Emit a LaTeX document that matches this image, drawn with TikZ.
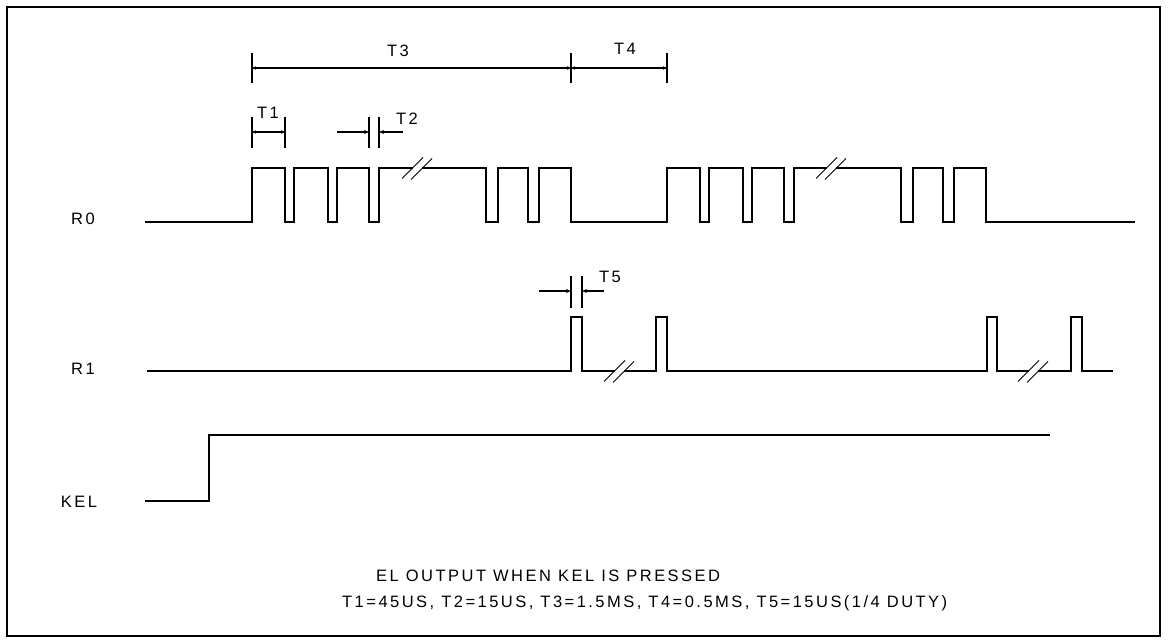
\documentclass[tikz,border=0pt]{standalone}
\usepackage{fontspec}
\setmainfont{Liberation Sans}
\newfontfamily\lbl[LetterSpace=15]{Liberation Sans}
\usetikzlibrary{arrows.meta}
\newcommand\brkpair[2]{%
  \draw[slash] (#1-15,#2+10.5) -- ++(21,-21);
  \draw[slash] (#1-6,#2+11.5) -- ++(21,-21);}
\begin{document}
\begin{tikzpicture}[x=1pt,y=-1pt,
  sig/.style={line width=1.8pt, line join=miter},
  tickln/.style={line width=1.6pt},
  dimln/.style={line width=1.4pt, {Stealth[length=4pt,width=3.5pt]}-{Stealth[length=4pt,width=3.5pt]}},
  onearr/.style={line width=1.4pt, -{Stealth[length=5pt,width=4pt]}},
  lab/.style={font=\lbl\fontsize{16.5}{19}\selectfont, inner sep=0pt},
  slash/.style={line width=1pt}]
\useasboundingbox (0,0) rectangle (1168,644);
\fill[white] (0,0) rectangle (1168,644);
% frame
\draw[line width=2pt] (7,7) rectangle (1160,636);

% signal labels
\node[lab, anchor=base] (lr0) at (83,225) {R0};
\node[lab, anchor=base] (lr1) at (83,374) {R1};
\node[lab, anchor=base] (lkel) at (79,507) {KEL};

% R0 waveform
\draw[sig] (145,222) -- (252,222) -- (252,168) -- (285,168) -- (285,222) -- (294,222) -- (294,168)
  -- (328,168) -- (328,222) -- (337,222) -- (337,168) -- (369,168) -- (369,222) -- (379,222)
  -- (379,168) -- (413,168);
\brkpair{417}{168}
\draw[sig] (422,168) -- (486,168) -- (486,222) -- (498,222) -- (498,168) -- (528,168) -- (528,222)
  -- (539,222) -- (539,168) -- (571,168) -- (571,222) -- (667,222) -- (667,168) -- (700,168)
  -- (700,222) -- (709,222) -- (709,168) -- (743,168) -- (743,222) -- (752,222) -- (752,168)
  -- (784,168) -- (784,222) -- (794,222) -- (794,168) -- (827,168);
\brkpair{831}{168}
\draw[sig] (836,168) -- (901,168) -- (901,222) -- (913,222) -- (913,168) -- (943,168) -- (943,222)
  -- (954,222) -- (954,168) -- (986,168) -- (986,222) -- (1135,222);

% R1 waveform
\draw[sig] (147,371) -- (571,371) -- (571,317) -- (582,317) -- (582,371) -- (615,371);
\brkpair{619}{371}
\draw[sig] (624,371) -- (656,371) -- (656,317) -- (667,317) -- (667,371) -- (987,371) -- (987,317)
  -- (997,317) -- (997,371) -- (1029,371);
\brkpair{1033}{371}
\draw[sig] (1038,371) -- (1071,371) -- (1071,317) -- (1082,317) -- (1082,371) -- (1113,371);

% KEL waveform
\draw[sig] (145,501) -- (209,501) -- (209,435) -- (1050,435);

% T3 / T4 dimension
\draw[tickln] (252,53) -- (252,83);
\draw[tickln] (571,53) -- (571,83);
\draw[tickln] (667,53) -- (667,83);
\draw[dimln] (252,68) -- (571,68);
\draw[dimln] (571,68) -- (667,68);
\node[lab, anchor=base] (t3) at (398,57) {T3};
\node[lab, anchor=base] (t4) at (625,55) {T4};

% T1
\draw[tickln] (252,117) -- (252,148);
\draw[tickln] (285,117) -- (285,148);
\draw[dimln] (252,132) -- (285,132);
\node[lab, anchor=base] (t1) at (268,119) {T1};

% T2
\draw[tickln] (369,117) -- (369,148);
\draw[tickln] (379,117) -- (379,148);
\draw[onearr] (337,132) -- (369,132);
\draw[onearr] (403,132) -- (379,132);
\node[lab, anchor=base] (t2) at (407,125) {T2};

% T5
\draw[tickln] (571,276) -- (571,308);
\draw[tickln] (582,276) -- (582,308);
\draw[onearr] (539,291) -- (571,291);
\draw[onearr] (604,291) -- (582,291);
\node[lab, anchor=base] (t5) at (610,283) {T5};

% captions
\node[lab, anchor=base west] (cap1) at (376,581) {EL OUTPUT WHEN KEL IS PRESSED};
\node[lab, anchor=base west] (cap2) at (342,607) {T1=45US, T2=15US, T3=1.5MS, T4=0.5MS, T5=15US(1/4 DUTY)};
\end{tikzpicture}
\end{document}
